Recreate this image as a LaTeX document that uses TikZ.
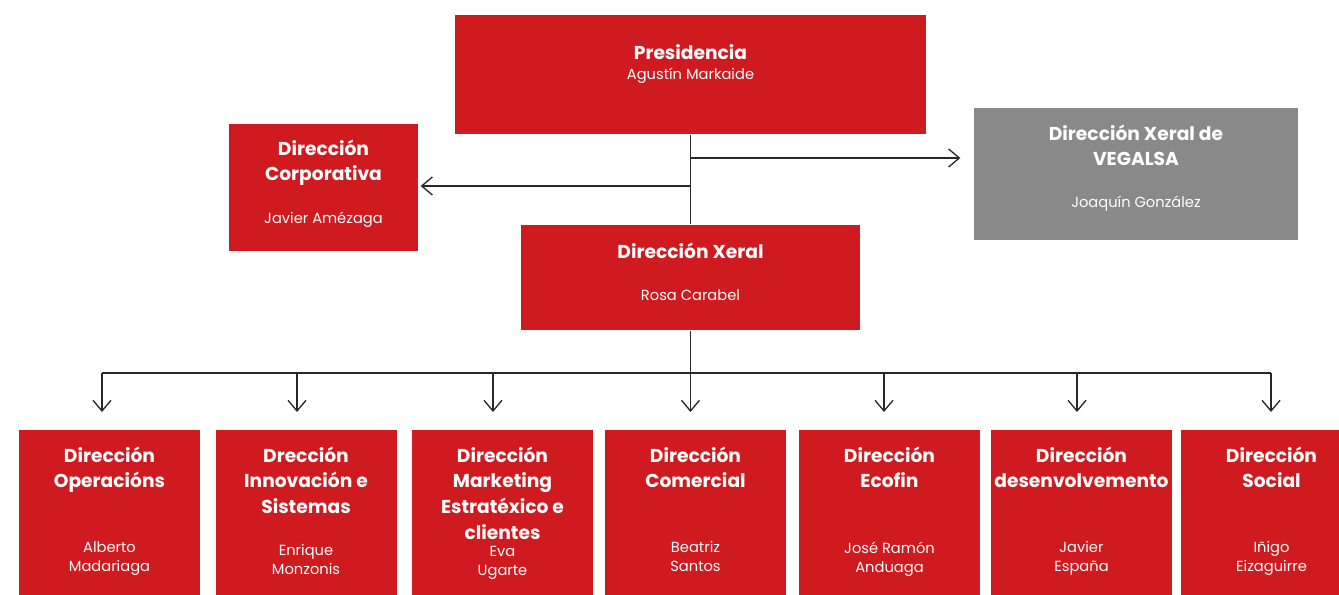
\documentclass[tikz,border=0pt]{standalone}
\usepackage{fontspec}
\setmainfont{Poppins}
\usetikzlibrary{arrows.meta}

\definecolor{orgred}{RGB}{207,26,31}
\definecolor{orggray}{RGB}{137,137,137}
\definecolor{orgline}{RGB}{40,40,40}

\tikzset{every picture/.style={line width=1pt}}
\tikzset{
  unitbox/.style={fill=orgred, draw=none, inner sep=0pt},
  sidebox/.style={unitbox, fill=orggray},
  deptbox/.style={unitbox, minimum width=135.75pt, minimum height=123.75pt},
  unittitle/.style={anchor=north, inner sep=0pt, text=white, align=center,
    font=\fontsize{14}{19.3}\selectfont\bfseries},
  unithead/.style={anchor=north, inner sep=0pt, text=white, align=center,
    font=\fontsize{11}{14.25}\selectfont},
  conn/.style={draw=orgline, line width=1pt},
  arr/.style={conn, -{Straight Barb[length=8pt, width=13.5pt]}}
}

\begin{document}
\begin{tikzpicture}[x=0.75pt,y=0.75pt,yscale=-1,xscale=1]
\useasboundingbox (0,0) rectangle (1339,595);

% top level
\node [unitbox, minimum width=353.25pt, minimum height=89.25pt] (pres) at (690.5,74.5) {};
\node [unittitle] (prest) at (690.5,43.5) {Presidencia};
\node [unithead] (presn) at (690.5,67.5) {Agustín Markaide};

\node [unitbox, minimum width=141.75pt, minimum height=95.25pt] (corp) at (323.5,187.5) {};
\node [unittitle] (corpt) at (323.5,139) {Dirección\\Corporativa};
\node [unithead] (corpn) at (323.5,211.5) {Javier Amézaga};

\node [sidebox, minimum width=243pt, minimum height=99pt] (veg) at (1136,174) {};
\node [unittitle] (vegt) at (1136,124) {Dirección Xeral de\\VEGALSA};
\node [unithead] (vegn) at (1136,195.5) {Joaquín González};

\node [unitbox, minimum width=254.25pt, minimum height=78.75pt] (xeral) at (690.5,277.5) {};
\node [unittitle] (xeralt) at (690.5,242) {Dirección Xeral};
\node [unithead] (xeraln) at (690.5,288.5) {Rosa Carabel};

% departments
\node [deptbox] (ops) at (109.5,512.5) {};
\node [unittitle] (opst) at (109.5,446) {Dirección\\Operacións};
\node [unithead] (opsn) at (109.5,541) {Alberto\\Madariaga};

\node [deptbox] (inno) at (306,512.5) {};
\node [unittitle] (innot) at (306,446) {Drección\\Innovación e\\Sistemas};
\node [unithead] (innon) at (306,544) {Enrique\\Monzonis};

\node [deptbox] (mkt) at (502.5,512.5) {};
\node [unittitle] (mktt) at (502.5,446) {Dirección\\Marketing\\Estratéxico e\\clientes};
\node [unithead] (mktn) at (502.5,546) {Eva\\Ugarte};

\node [deptbox] (com) at (695.5,512.5) {};
\node [unittitle] (comt) at (695.5,446) {Dirección\\Comercial};
\node [unithead] (comn) at (695.5,541) {Beatriz\\Santos};

\node [deptbox] (eco) at (889.5,512.5) {};
\node [unittitle] (ecot) at (889.5,446) {Dirección\\Ecofin};
\node [unithead] (econ) at (889.5,541) {José Ramón\\Anduaga};

\node [deptbox] (desv) at (1081.5,512.5) {};
\node [unittitle] (desvt) at (1081.5,446) {Dirección\\desenvolvemento};
\node [unithead] (desvn) at (1081.5,541) {Javier\\España};

\node [deptbox] (soc) at (1271.5,512.5) {};
\node [unittitle] (soct) at (1271.5,446) {Dirección\\Social};
\node [unithead] (socn) at (1271.5,541) {Iñigo\\Eizaguirre};

% connectors
\coordinate (jr) at (690.5,158);
\coordinate (jl) at (690.5,186);
\coordinate (bus) at (690.5,373);
\draw [conn] (pres.south) -- (xeral.north);
\draw [arr, shorten >=9.75pt] (jr) -- (jr -| veg.west);
\draw [arr, shorten >=1.5pt] (jl) -- (jl -| corp.east);
\draw [conn] (xeral.south) -- (bus);
\foreach \x [count=\i] in {102,297,493,690.5,884,1077,1271}
  \coordinate (tip\i) at (\x,412);
\draw [conn] (bus -| tip1) -- (bus -| tip7);
\foreach \i in {1,...,7}
  \draw [arr] (bus -| tip\i) -- (tip\i);
\end{tikzpicture}
\end{document}
